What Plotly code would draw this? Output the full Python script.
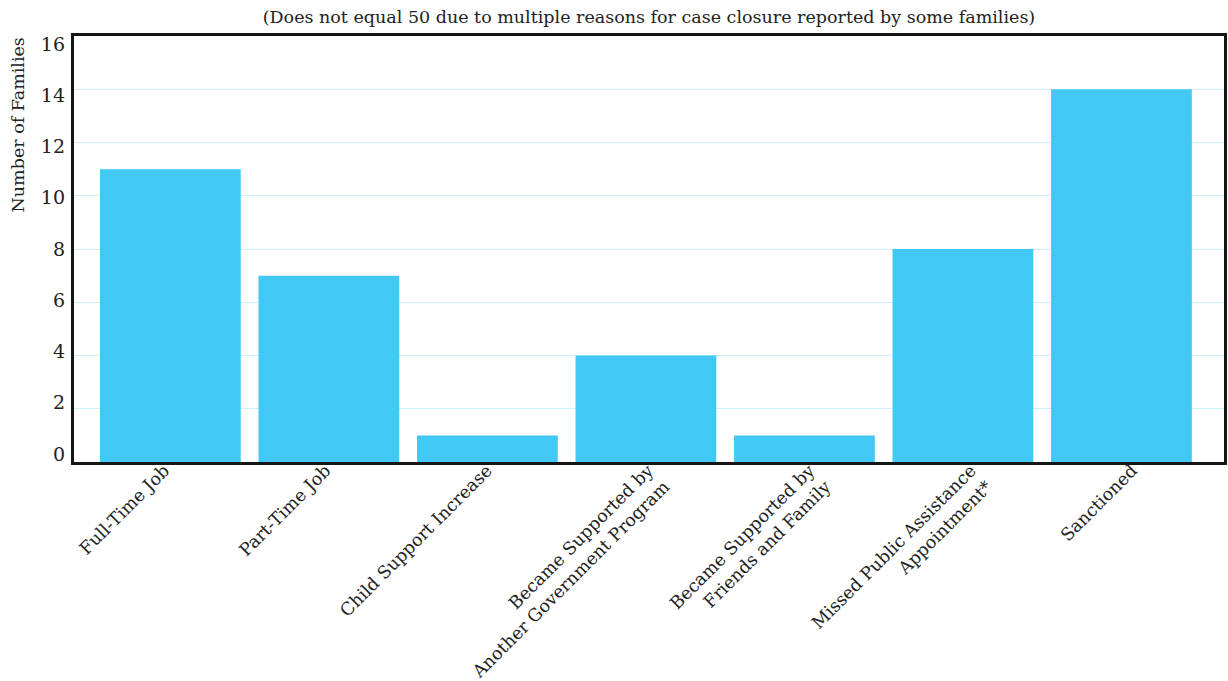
import plotly.graph_objects as go

categories = [
    "Full-Time Job",
    "Part-Time Job",
    "Child Support Increase",
    "Became Supported by<br>Another Government Program",
    "Became Supported by<br>Friends and Family",
    "Missed Public Assistance<br>Appointment*",
    "Sanctioned",
]
families = [11, 7, 1, 4, 1, 8, 14]
y_ticks = [0, 2, 4, 6, 8, 10, 12, 14, 16]

FONT = "DejaVu Serif"
TEXT = "#222222"

fig = go.Figure(
    go.Bar(
        x=categories,
        y=families,
        marker=dict(color="#41C8F4", line=dict(width=0)),
        width=0.888,
    )
)

# invisible trace carrying the label axes (x2 / y2)
fig.add_trace(
    go.Scatter(x=categories, y=families, xaxis="x2", yaxis="y2", mode="markers",
               marker=dict(opacity=0), hoverinfo="skip", showlegend=False)
)

fig.update_layout(
    width=1228,
    height=681,
    margin=dict(l=74, r=4, t=36, b=219, autoexpand=False),
    paper_bgcolor="white",
    plot_bgcolor="white",
    showlegend=False,
    font=dict(family=FONT, color=TEXT),
    title=dict(
        text="(Does not equal 50 due to multiple reasons for case closure reported by some families)",
        x=0.5285,
        xanchor="center",
        y=0.975,
        yanchor="middle",
        font=dict(family=FONT, size=17.5, color=TEXT),
    ),
    xaxis=dict(
        range=[-0.608, 6.647],
        showticklabels=False,
        showline=True,
        linecolor="#151515",
        linewidth=3,
        mirror=True,
        ticks="",
        showgrid=False,
        automargin=False,
    ),
    # category labels on a slightly wider spacing than the bars
    xaxis2=dict(
        overlaying="x",
        side="bottom",
        anchor="y",
        range=[-0.56, 6.57],
        categoryorder="array",
        categoryarray=categories,
        tickangle=-45,
        tickfont=dict(family=FONT, size=17.5, color=TEXT),
        ticklabelstandoff=-6,
        showline=False,
        showgrid=False,
        zeroline=False,
        ticks="",
        automargin=False,
    ),
    yaxis=dict(
        range=[0, 16],
        tickvals=y_ticks,
        showticklabels=False,
        showline=True,
        linecolor="#151515",
        linewidth=3,
        mirror=True,
        ticks="",
        gridcolor="#CDEFFB",
        gridwidth=1,
        zeroline=False,
        automargin=False,
    ),
    # tick labels sit on their own slightly tighter scale
    yaxis2=dict(
        overlaying="y",
        side="left",
        anchor="x",
        range=[-0.312, 16.31],
        tickvals=y_ticks,
        tickfont=dict(family=FONT, size=19, color=TEXT),
        showgrid=False,
        zeroline=False,
        showline=False,
        ticks="",
        ticklabelstandoff=8,
        automargin=False,
    ),
    annotations=[
        dict(
            text="Number of Families",
            textangle=-90,
            xref="paper",
            yref="paper",
            x=0,
            y=1,
            xanchor="center",
            yanchor="top",
            xshift=-57,
            showarrow=False,
            font=dict(family=FONT, size=17.5, color=TEXT),
        )
    ],
)

fig.write_html("out.html")
